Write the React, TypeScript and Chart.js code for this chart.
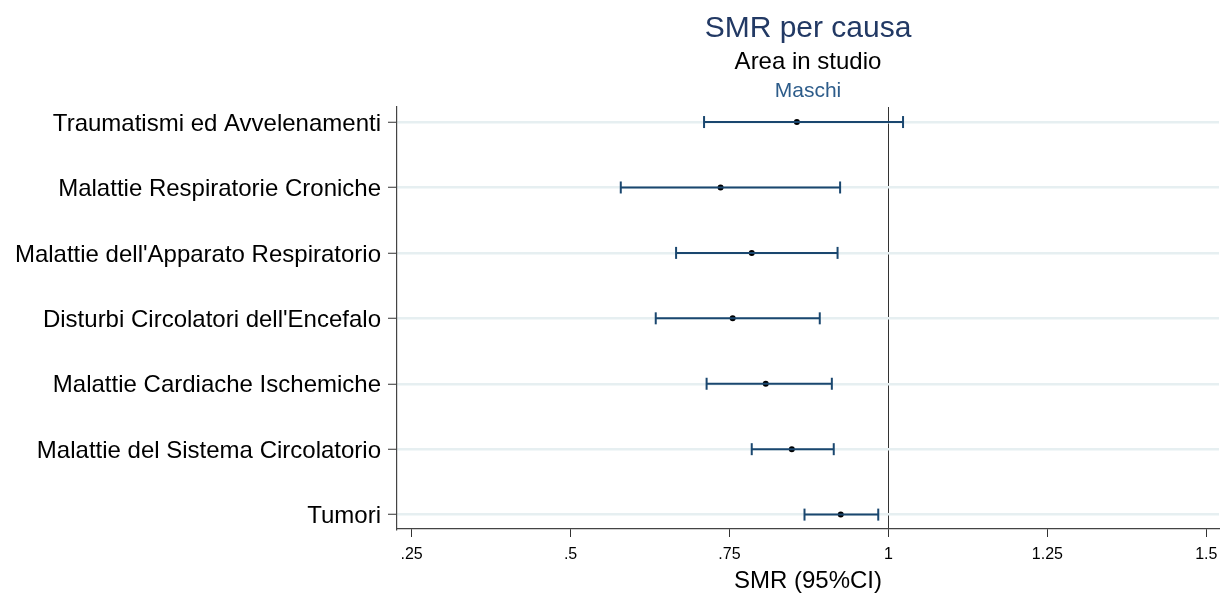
import React, { useEffect, useRef } from 'react';
import { Chart, registerables } from 'chart.js';

Chart.register(...registerables);

const causes = [
  'Traumatismi ed Avvelenamenti',
  'Malattie Respiratorie Croniche',
  "Malattie dell'Apparato Respiratorio",
  "Disturbi Circolatori dell'Encefalo",
  'Malattie Cardiache Ischemiche',
  'Malattie del Sistema Circolatorio',
  'Tumori',
];
const smr = [0.856, 0.736, 0.785, 0.755, 0.807, 0.848, 0.925];
const ciLow = [0.71, 0.579, 0.666, 0.634, 0.714, 0.785, 0.868];
const ciHigh = [1.023, 0.924, 0.92, 0.892, 0.911, 0.914, 0.984];
const xTickValues = [0.25, 0.5, 0.75, 1, 1.25, 1.5];
const xTickLabels = ['.25', '.5', '.75', '1', '1.25', '1.5'];
const referenceValue = 1;

const titleText = 'SMR per causa';
const subtitleText = 'Area in studio';
const captionText = 'Maschi';
const xAxisTitle = 'SMR (95%CI)';

const FONT = '"Liberation Sans", Arial, Helvetica, sans-serif';
const CI_COLOR = '#1a476f';

const rowOf = (i: number) => causes.length - 1 - i;

const titlePlugin = {
  id: 'stataTitles',
  afterDraw(chart: any) {
    const { ctx, chartArea } = chart;
    const cx = (chartArea.left + chartArea.right) / 2;
    ctx.save();
    ctx.textAlign = 'center';
    ctx.textBaseline = 'middle';
    ctx.font = `30px ${FONT}`;
    ctx.fillStyle = '#223964';
    ctx.fillText(titleText, cx, 29);
    ctx.font = `24px ${FONT}`;
    ctx.fillStyle = '#000000';
    ctx.fillText(subtitleText, cx, 62);
    ctx.font = `21px ${FONT}`;
    ctx.fillStyle = '#2d5c8a';
    ctx.fillText(captionText, cx, 91);
    ctx.restore();
  },
};

export default function App() {
  const ref = useRef<HTMLCanvasElement | null>(null);

  useEffect(() => {
    if (!ref.current) return;
    const ciDatasets = causes.map((c, i) => ({
      type: 'scatter' as const,
      label: c,
      data: [
        { x: ciLow[i], y: rowOf(i) },
        { x: ciHigh[i], y: rowOf(i) },
      ],
      showLine: true,
      borderColor: CI_COLOR,
      borderWidth: 2,
      pointStyle: 'line' as const,
      pointRadius: 6,
      pointRotation: 90,
      pointBorderColor: CI_COLOR,
      pointBorderWidth: 2,
      pointHoverRadius: 6,
    }));
    const pointDataset = {
      type: 'scatter' as const,
      label: 'SMR',
      data: causes.map((_, i) => ({ x: smr[i], y: rowOf(i) })),
      showLine: false,
      pointStyle: 'circle' as const,
      pointRadius: 3,
      pointBackgroundColor: '#000000',
      pointBorderColor: '#000000',
      pointBorderWidth: 0,
    };

    const chart = new Chart(ref.current, {
      type: 'scatter',
      data: { datasets: [...ciDatasets, pointDataset] as any },
      plugins: [titlePlugin],
      options: {
        animation: false,
        responsive: false,
        events: [],
        layout: { padding: { top: 107, left: 0, right: 8, bottom: 0 } },
        plugins: {
          legend: { display: false },
          tooltip: { enabled: false },
          title: { display: false },
        },
        scales: {
          x: {
            type: 'linear',
            min: 0.227,
            max: 1.52,
            afterBuildTicks: (axis: any) => {
              axis.ticks = xTickValues.map((v) => ({ value: v }));
            },
            afterFit: (axis: any) => {
              axis.height = 68;
            },
            ticks: {
              callback: (v: any) => {
                const k = xTickValues.indexOf(Number(v));
                return k >= 0 ? xTickLabels[k] : '';
              },
              color: '#000000',
              font: { family: FONT, size: 16 },
              padding: 8,
              maxRotation: 0,
              autoSkip: false,
            },
            grid: {
              color: (ctx: any) =>
                ctx.tick && ctx.tick.value === referenceValue ? '#333333' : 'rgba(0,0,0,0)',
              tickColor: '#333333',
              tickLength: 8,
              lineWidth: 1,
            },
            border: { color: '#444444', width: 1.2 },
            title: {
              display: true,
              text: xAxisTitle,
              color: '#000000',
              font: { family: FONT, size: 24 },
              padding: { top: 0, bottom: 1 },
            },
          },
          y: {
            type: 'linear',
            min: -0.22,
            max: 6.23,
            afterBuildTicks: (axis: any) => {
              axis.ticks = causes.map((_, i) => ({ value: rowOf(i) }));
            },
            afterFit: (axis: any) => {
              axis.width = 397;
            },
            ticks: {
              callback: (v: any) => {
                const idx = causes.length - 1 - Number(v);
                return causes[idx] ?? '';
              },
              color: '#000000',
              font: { family: FONT, size: 24 },
              padding: 7,
              labelOffset: 2,
              autoSkip: false,
            },
            grid: {
              color: '#e6eff1',
              lineWidth: 2.5,
              tickColor: '#333333',
              tickLength: 9,
              tickWidth: 1,
            },
            border: { color: '#444444', width: 1.2 },
          },
        },
      },
    });
    return () => chart.destroy();
  }, []);

  return (
    <div style={{ position: 'fixed', left: 0, top: 0, width: 1227, height: 597, background: '#ffffff' }}>
      <canvas ref={ref} width={1227} height={597} style={{ display: 'block' }} />
    </div>
  );
}
